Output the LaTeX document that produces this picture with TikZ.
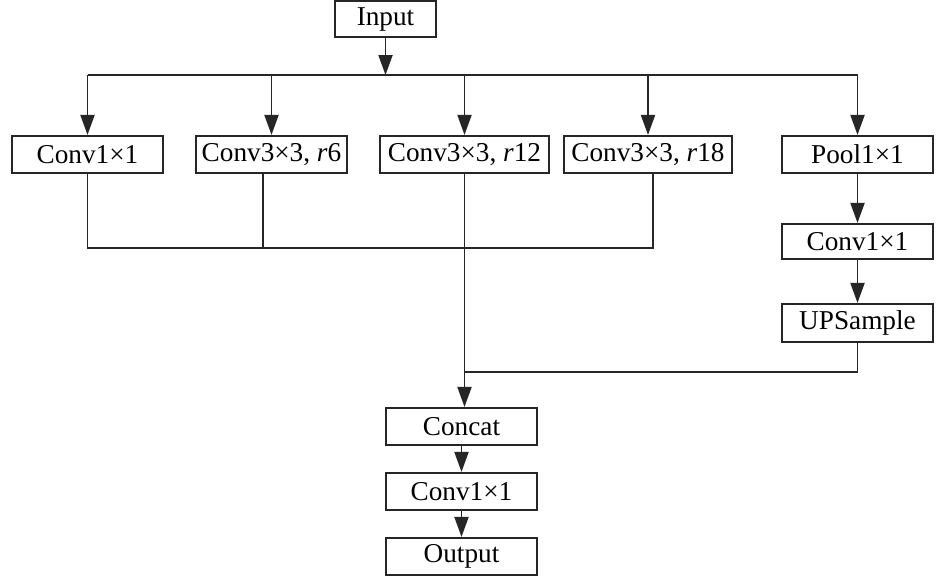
\documentclass[tikz,border=0pt]{standalone}
\usepackage{fontspec}
\setmainfont{Liberation Serif}
\usetikzlibrary{arrows.meta}
\begin{document}
\begin{tikzpicture}[x=0.2mm, y=-0.2mm, line width=1.1pt, color={black!85},
    block/.style={draw, line width=1.2pt, minimum width=30.2mm, minimum height=7.4mm,
        inner sep=0pt, text=black, font=\fontsize{15.5}{17}\selectfont},
    arr/.style={-{Triangle[length=4mm,width=2.8mm]}}]
        \useasboundingbox (0,0) rectangle (945,576);
        % input block
        \node[block, minimum width=20.2mm, minimum height=7.2mm] (input) at (385.5,19) {Input};
        % parallel branches
        \node[block] (c1) at (87.5,154.5) {Conv1×1};
        \node[block] (c6) at (271.5,154.5) {Conv3×3, \textit{r}6};
        \node[block, minimum width=33.8mm] (c12) at (464.5,154.5) {Conv3×3, \textit{r}12};
        \node[block, minimum width=33.6mm] (c18) at (648,154.5) {Conv3×3, \textit{r}18};
        \node[block] (pool) at (857.5,154.5) {Pool1×1};
        % image pooling column
        \node[block, minimum height=7mm] (pconv) at (857.5,241.5) {Conv1×1};
        \node[block, minimum height=7.6mm] (ups) at (857.5,323) {UPSample};
        % merge and output
        \node[block] (concat) at (461.5,426.5) {Concat};
        \node[block] (cout) at (461.5,491.5) {Conv1×1};
        \node[block] (output) at (461.5,556.5) {Output};
        % junction points
        \coordinate (top) at (385.5,75);
        \coordinate (low) at (464,248);
        \coordinate (up) at (464,372);
        % split from input
        \draw[arr] (input) -- (top);
        \draw (c1 |- top) -- (pool |- top);
        \foreach \n in {c1,c6,c12,c18,pool}
            \draw[arr] (\n |- top) -- (\n.north);
        % gather branches
        \draw (c1.south) -- (c1 |- low) -- ([xshift=1mm]c18.south |- low) -- ([xshift=1mm]c18.south);
        \draw ([xshift=-1.7mm]c6.south) -- ([xshift=-1.7mm]c6.south |- low);
        \draw[arr] (c12.south) -- (c12.south |- concat.north);
        \draw (ups.south) -- (ups |- up) -- (c12 |- up);
        % chains
        \foreach \a/\b in {pool/pconv, pconv/ups, concat/cout, cout/output}
            \draw[arr] (\a) -- (\b);
\end{tikzpicture}
\end{document}
